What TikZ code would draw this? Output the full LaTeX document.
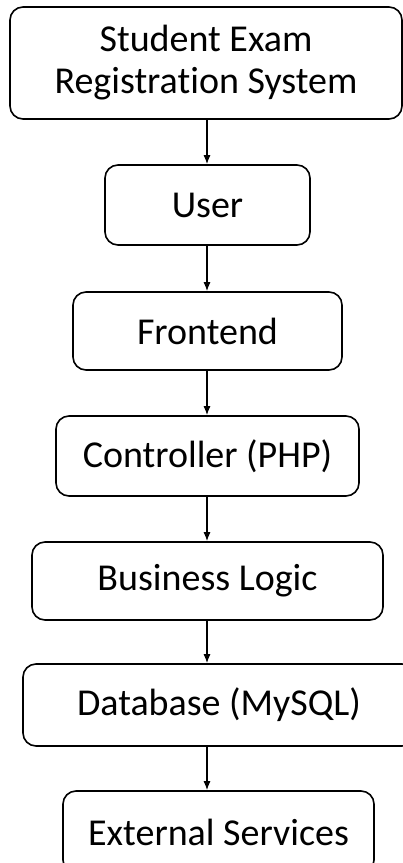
\documentclass[tikz,border=0pt]{standalone}
\usepackage{fontspec}
\setmainfont[Ligatures=NoCommon]{Carlito}
\usetikzlibrary{arrows.meta}
\tikzset{
  box/.style={draw=black, line width=1.6pt, rounded corners=13pt, fill=white,
    inner sep=0pt, align=center, font=\fontsize{38}{42}\selectfont},
  link/.style={line width=1.2pt, -{Latex[length=9pt,width=7pt]}}
}
\begin{document}
\begin{tikzpicture}[x=1pt,y=1pt]
\useasboundingbox (0,0) rectangle (403,-863);
\fill[white] (0,0) rectangle (403,-863);
\clip (0,0) rectangle (403,-863);
\coordinate (ax) at (207,0);
\node[box, minimum width=392pt, minimum height=112pt] (sys) at (206,-63) {Student Exam\\Registration System};
\node[box, minimum width=205pt, minimum height=80pt] (user) at (207.5,-205) {User};
\node[box, minimum width=269pt, minimum height=78pt] (front) at (207.5,-331) {Frontend};
\node[box, minimum width=303pt, minimum height=80pt] (ctrl) at (207.5,-456) {Controller (PHP)};
\node[box, minimum width=351pt, minimum height=78pt] (logic) at (207.5,-581) {Business Logic};
\node[box, minimum width=392pt, minimum height=82pt] (db) at (219,-705) {Database (MySQL)};
\node[box, minimum width=311pt, minimum height=82pt] (ext) at (218.5,-832) {External Services};
\draw[link] (sys.south -| ax) -- (user.north -| ax);
\draw[link] (user.south -| ax) -- (front.north -| ax);
\draw[link] (front.south -| ax) -- (ctrl.north -| ax);
\draw[link] (ctrl.south -| ax) -- (logic.north -| ax);
\draw[link] (logic.south -| ax) -- (db.north -| ax);
\draw[link] (db.south -| ax) -- (ext.north -| ax);
\end{tikzpicture}
\end{document}
